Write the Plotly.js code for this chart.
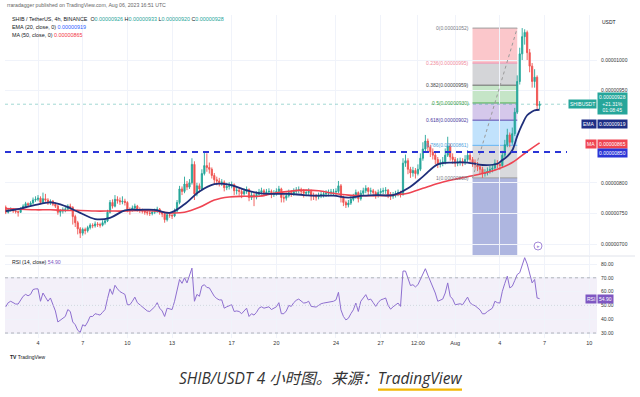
<!DOCTYPE html>
<html><head><meta charset="utf-8">
<script src="https://cdn.plot.ly/plotly-3.0.1.min.js"></script>
<style>html,body{margin:0;padding:0;background:#fff;}#chart{width:640px;height:397px;}</style>
</head><body><div id="chart"></div>
<script>
// ---- data (prices in units of 1e-8 USDT) ----
const startTime = Date.UTC(2023, 6, 1, 20, 0); // first 4h candle
const firstOpenE8 = 760;
const closeE8 = [
752,756,757,754,753,752,758,762,766,764,
767,772,773,775,768,774,772,767,770,765,
762,752,754,756,757,762,760,745,735,725,
718,724,722,727,731,730,733,732,731,735,
738,752,768,762,773,771,769,770,768,757,
756,759,762,757,755,754,752,751,750,752,
754,757,752,749,740,748,747,746,754,768,
790,786,798,793,800,830,782,795,790,815,
828,825,822,812,805,803,800,801,792,794,
795,797,787,788,786,782,786,789,776,780,
777,781,785,787,784,785,786,781,783,786,
790,776,775,779,784,782,786,788,789,786,
783,784,786,779,778,777,779,781,782,783,
784,785,785,786,795,776,768,764,767,773,
777,784,774,783,787,791,786,787,784,780,
784,786,787,788,781,778,780,782,784,781,
832,836,822,816,820,815,822,840,855,868,
858,850,845,838,830,832,834,845,860,842,
838,832,834,835,833,838,845,838,833,830,
826,822,815,816,819,822,824,832,830,828,
845,862,878,866,880,915,965,1010,1038,1045,
1012,990,965,972,926,928];
const highE8 = [
763,758,760,759,757,755,760,765,769,768,
770,776,778,780,778,784,782,775,773,772,
768,764,757,760,762,765,766,762,748,738,
728,727,727,730,734,734,737,736,735,739,
742,756,772,773,780,778,776,778,774,770,
760,763,766,764,760,758,757,756,755,756,
758,761,759,754,751,751,752,751,758,772,
795,794,810,803,806,840,835,800,799,822,
850,848,833,825,816,810,808,806,804,800,
801,802,799,793,792,790,791,794,791,785,
784,786,790,792,790,790,791,789,788,791,
795,792,781,784,789,788,791,793,794,792,
790,789,791,789,784,782,784,786,787,788,
789,790,790,791,803,798,779,771,772,778,
782,789,786,788,792,796,793,792,790,787,
789,791,792,793,790,785,785,787,789,787,
840,846,840,826,826,824,830,848,866,878,
872,862,856,850,842,838,842,856,875,864,
848,842,840,841,840,845,853,849,842,838,
834,830,826,822,825,828,830,838,837,835,
852,870,888,882,890,922,975,1020,1052,1050,
1048,1018,995,985,975,933];
const lowE8 = [
749,750,753,751,750,745,751,756,760,761,
762,765,769,770,765,766,769,764,764,762,
759,748,745,750,752,755,756,732,728,716,
710,714,716,719,724,726,727,728,727,729,
732,736,750,758,760,766,764,765,763,752,
748,753,756,753,751,750,748,747,746,747,
749,751,748,744,735,737,743,741,744,752,
765,780,783,788,790,797,772,778,784,788,
812,818,815,807,798,796,794,795,786,788,
789,791,780,781,779,775,779,782,770,772,
762,773,778,781,778,779,780,775,777,779,
783,768,768,771,776,777,779,782,783,780,
776,778,780,771,772,771,773,775,776,777,
778,779,780,780,783,768,762,759,760,764,
770,774,768,771,779,783,780,781,778,774,
776,780,781,782,775,772,774,776,778,776,
779,826,814,808,810,807,812,819,836,850,
850,842,838,830,824,825,827,830,842,836,
831,826,827,828,827,829,834,832,826,823,
819,814,808,810,812,815,817,820,824,821,
825,842,858,858,862,876,912,960,1000,1025,
1000,980,955,955,918,920];
const rsi14 = [
49,52,53,52,51,51,54,56.6,58,57,
58,61.5,62,62,53,59,56,53,55.4,50,
46,38,39.5,41,42,47,45.6,38,36,32,
30.5,36,35,38,42,42,44,43.5,43,45,
47,55,62,58,64.6,62,60,59,58,50.5,
50.5,53,56,52,50.5,49,47,46,45.6,47,
49,52,48,46,42,48,47.5,47,53,60,
68.8,66,70,66.3,72,77,53,58,56.6,64,
65,63,62.7,60,56.6,55,54,54,48,49,
49.5,50.5,45.6,46,45.6,44,46,48,42,44,
43,45,48,49,48,48.5,49,47,48,49,
52,44,44,46,50,49.3,52,53.7,54.6,53,
51.7,52,53,49.3,49,48.8,50,51.2,51.7,52,
52.4,53,53,54,59.5,46.8,42,39.5,40.7,44,
46.8,51.7,45.6,53,55,57.8,54,54.6,52,49.3,
52,54,54.6,55.4,50,47.3,49,50.5,51.7,49.3,
74.9,74.9,70,64.4,65,63.4,65,68.8,72.4,76.6,
72,67.6,63.9,59,53,54,54.6,59,66.3,56.6,
54.6,50.5,51,51.2,50.5,53,56,52,50.5,49.8,
48,46.8,43.9,44,45.6,47,48,53,52,51.7,
60.2,66,71.2,62.7,63.9,68,72.4,73.7,78.5,84.6,
80,73.7,66.3,68.8,55.4,54.9];
const emaIdx = [0,6,12,18,24,30,36,42,48,54,60,66,72,78,84,90,96,102,108,114,120,126,132,138,144,150,156,162,168,174,180,186,192,198,200,202,204,206,208,210,212,213,215];
const ema20E8 = [754,758,764,768,762,751,741,743,755,756,756,751,765,786,798,797,789,783,782,782,780,779,779,776,779,780,780,791,810,830,833,833,829,831,837,843,853,876,895,910,916,918,919];
const maIdx = [0,6,12,18,24,30,36,42,48,54,60,66,72,78,84,90,96,102,108,114,120,126,132,138,144,150,156,162,168,174,180,186,192,198,204,210,215];
const ma50E8 = [758,757,756,756,755,755,754,754,754,755,754,751,752,760,772,777,778,778,783,786,788,787,783,780,779,779,780,783,791,799,805,810,815,822,833,851,865];
const dateTicks = ['2023-07-04','2023-07-07','2023-07-10','2023-07-13','2023-07-17','2023-07-20','2023-07-24','2023-07-27','2023-07-29 12:00','2023-08-01','2023-08-04','2023-08-07','2023-08-10'];
const dateTickText = ['4','7','10','13','17','20','24','27','12:00','Aug','4','7','10'];
const priceTicksE8 = [700,750,800,950,1000];
const rsiTicks = [30,40,50,60,70,80];
const supportE8 = 850;
const fibStart = '2023-08-02 04:00', fibEnd = '2023-08-05 04:00';
const fibPricesE8 = [1052,995,959,930,902,861,808,657];
const fibLabels = ['0(0.00001052)','0.236(0.00000995)','0.382(0.00000959)','0.5(0.00000930)','0.618(0.00000902)','0.786(0.00000861)','1(0.00000808)'];

// ---- build ----
const fmtT = ms => new Date(ms).toISOString().slice(0,16).replace('T',' ');
const times = closeE8.map((_, i) => fmtT(startTime + i*4*3600e3));
const openE8 = closeE8.map((c, i) => i === 0 ? firstOpenE8 : closeE8[i-1]);

const UP = '#26a69a', DN = '#ef5350';
const traces = [
  {type:'candlestick', x:times, open:openE8, high:highE8, low:lowE8, close:closeE8,
   increasing:{line:{color:UP,width:0.9}, fillcolor:UP}, decreasing:{line:{color:DN,width:0.9}, fillcolor:DN},
   whiskerwidth:0, hoverinfo:'skip', xaxis:'x', yaxis:'y'},
  {type:'scatter', mode:'lines', x:maIdx.map(i=>times[i]), y:ma50E8, line:{color:'#ef4452',width:1.6,shape:'spline',smoothing:1}, xaxis:'x', yaxis:'y', hoverinfo:'skip'},
  {type:'scatter', mode:'lines', x:emaIdx.map(i=>times[i]), y:ema20E8, line:{color:'#1f2f7a',width:1.8,shape:'spline',smoothing:1}, xaxis:'x', yaxis:'y', hoverinfo:'skip'},
  {type:'scatter', mode:'lines', x:times, y:rsi14, line:{color:'#8e6fd0',width:1}, xaxis:'x', yaxis:'y2', hoverinfo:'skip'}
];

const PX = px => (px-5)/592;          // pixel -> paper x
const PY = py => (338-py)/323;        // pixel -> paper y

const fibFill = ['rgba(242,54,69,0.28)','rgba(120,123,134,0.32)','rgba(76,175,80,0.32)','rgba(103,58,183,0.28)','rgba(33,150,243,0.28)','rgba(120,123,134,0.28)','rgba(63,81,181,0.42)'];
const fibLine = ['#9e9e9e','#f48fb1','#6b6b6b','#4caf50','#5b4bb0','#64b5f6','#9e9e9e'];
const fibText = ['#787b86','#f08a9c','#444','#43a047','#4a3aa0','#4f9fdc','#787b86'];

const shapes = [];
for (let k=0;k<7;k++){
  shapes.push({type:'rect', xref:'x', yref:'y', x0:fibStart, x1:fibEnd, y0:Math.max(fibPricesE8[k+1],682.4), y1:fibPricesE8[k], fillcolor:fibFill[k], line:{width:0}, layer:'below'});
  shapes.push({type:'line', xref:'x', yref:'y', x0:fibStart, x1:fibEnd, y0:fibPricesE8[k], y1:fibPricesE8[k], line:{color:fibLine[k],width:1}, layer:'below'});
}
shapes.push({type:'line', xref:'x', yref:'y', x0:fibStart, x1:fibEnd, y0:fibPricesE8[6], y1:fibPricesE8[0], line:{color:'#9a9a9a',width:1,dash:'dot'}});
// support line
shapes.push({type:'line', xref:'paper', yref:'y', x0:0, x1:PX(567), y0:supportE8, y1:supportE8, line:{color:'#2b35d6',width:2,dash:'6px,5px'}});
// last price line
shapes.push({type:'line', xref:'paper', yref:'y', x0:0, x1:1, y0:928, y1:928, line:{color:'rgba(38,166,154,0.55)',width:0.8,dash:'dot'}});
// RSI band
shapes.push({type:'rect', xref:'paper', yref:'y2', x0:0, x1:1, y0:30, y1:70, fillcolor:'rgba(126,87,194,0.09)', line:{width:0}, layer:'below'});
[30,70].forEach(v=>shapes.push({type:'line', xref:'paper', yref:'y2', x0:0, x1:1, y0:v, y1:v, line:{color:'#9598a1',width:0.7,dash:'3px,3px'}}));
shapes.push({type:'line', xref:'paper', yref:'y2', x0:0, x1:1, y0:50, y1:50, line:{color:'#c3c5cc',width:0.6,dash:'1px,2px'}});
// pane separator
shapes.push({type:'line', xref:'paper', yref:'paper', x0:0, x1:PX(635), y0:PY(256), y1:PY(256), line:{color:'#e0e3eb',width:1}});
// realtime button
shapes.push({type:'circle', xref:'paper', yref:'paper', x0:PX(534), x1:PX(542), y0:PY(250), y1:PY(242), line:{color:'#a48ad8',width:1}, fillcolor:'#fff'});
// caption underline
shapes.push({type:'rect', xref:'paper', yref:'paper', x0:PX(378), x1:PX(462), y0:PY(390.8), y1:PY(388.4), fillcolor:'#f2b705', line:{width:0}});

const ann = [];
const A = (o) => ann.push(Object.assign({showarrow:false, xref:'paper', yref:'paper', font:{size:5,color:'#131722'}}, o));
A({x:PX(5), y:PY(5), xanchor:'left', yanchor:'middle', text:'rraradagger published on TradingView.com, Aug 06, 2023 16:51 UTC', font:{size:5.2,color:'#666'}});
const tc = s => '<span style="color:#26a69a">'+s+'</span>';
A({x:PX(10), y:PY(19), xanchor:'left', yanchor:'middle', text:'SHIB / TetherUS, 4h, BINANCE  O'+tc('0.00000926')+' H'+tc('0.00000933')+' L'+tc('0.00000920')+' C'+tc('0.00000928'), font:{size:5.4,color:'#131722'}});
A({x:PX(10), y:PY(27), xanchor:'left', yanchor:'middle', text:'EMA (20, close, 0) <span style="color:#2962ff">0.00000919</span>', font:{size:5.4,color:'#131722'}});
A({x:PX(10), y:PY(35), xanchor:'left', yanchor:'middle', text:'MA (50, close, 0) <span style="color:#f23645">0.00000865</span>', font:{size:5.4,color:'#131722'}});
A({x:PX(10), y:PY(262), xanchor:'left', yanchor:'middle', text:'RSI (14, close) <span style="color:#7e57c2">54.90</span>', font:{size:5.2,color:'#131722'}});
A({x:PX(600), y:PY(22), xanchor:'left', yanchor:'middle', text:'USDT'});
for (let k=0;k<7;k++) ann.push({showarrow:false, xref:'x', yref:'y', x:fibStart, y:fibPricesE8[k], xanchor:'right', yanchor:'middle', xshift:-2, text:fibLabels[k], font:{size:5,color:fibText[k]}});
// price-scale labels
const box = (py, name, val, bg) => {
  if (name) A({x:1, y:PY(py), xanchor:'right', yanchor:'middle', text:name, bgcolor:bg, borderpad:1, font:{size:5,color:'#fff'}});
  A({x:1, y:PY(py), xanchor:'left', yanchor:'middle', text:val, bgcolor:bg, borderpad:1, font:{size:5,color:'#fff'}});
};
box(103.5, 'SHIBUSDT', '0.00000928<br>+21.31%<br>01:08:45', '#26a69a');
box(123.5, 'EMA', '0.00000919', '#1e2f86');
box(143.5, 'MA', '0.00000865', '#ef4452');
box(152.5, null, '0.00000850', '#2b35d6');
box(299, 'RSI', '54.90', '#7e57c2');
A({x:PX(538), y:PY(246), xanchor:'center', yanchor:'middle', text:'▸', font:{size:5,color:'#a48ad8'}});
A({x:PX(8), y:PY(357), xanchor:'left', yanchor:'middle', text:'<b>TV</b> TradingView', font:{size:5,color:'#131722'}});
A({x:PX(320), y:PY(378), xanchor:'center', yanchor:'middle', text:'SHIB/USDT 4 小时图。来源：TradingView', font:{size:15.5,color:'#333',family:'Open Sans, Noto Sans CJK SC, sans-serif',style:'italic'}});

const layout = {
  width:640, height:397, margin:{l:5,r:43,t:15,b:59},
  paper_bgcolor:'#fff', plot_bgcolor:'#fff', showlegend:false,
  font:{family:'Liberation Sans, Arial, sans-serif', size:5, color:'#131722'},
  xaxis:{type:'date', range:['2023-07-01 18:50','2023-08-10 12:30'], tickvals:dateTicks, ticktext:dateTickText,
         showgrid:true, gridcolor:'#f0f3fa', gridwidth:1, zeroline:false, showline:false, ticks:'',
         tickfont:{size:5.5,color:'#333'}, rangeslider:{visible:false}, anchor:'y2', fixedrange:true},
  yaxis:{domain:[PY(255),1], range:[682.4,1073.3], side:'right', tickvals:priceTicksE8,
         ticktext:priceTicksE8.map(v=>(v/1e8).toFixed(8)), showgrid:true, gridcolor:'#f0f3fa',
         zeroline:false, showline:false, ticks:'', ticklabelstandoff:3, tickfont:{size:5,color:'#333'}},
  yaxis2:{domain:[0,PY(256)], range:[26.4,85.8], side:'right', tickvals:rsiTicks,
         ticktext:rsiTicks.map(v=>v.toFixed(2)), showgrid:true, gridcolor:'#f0f3fa',
         zeroline:false, showline:false, ticks:'', ticklabelstandoff:3, tickfont:{size:5,color:'#333'}},
  shapes:shapes, annotations:ann
};
Plotly.newPlot('chart', traces, layout, {staticPlot:true, displayModeBar:false});
</script></body></html>
